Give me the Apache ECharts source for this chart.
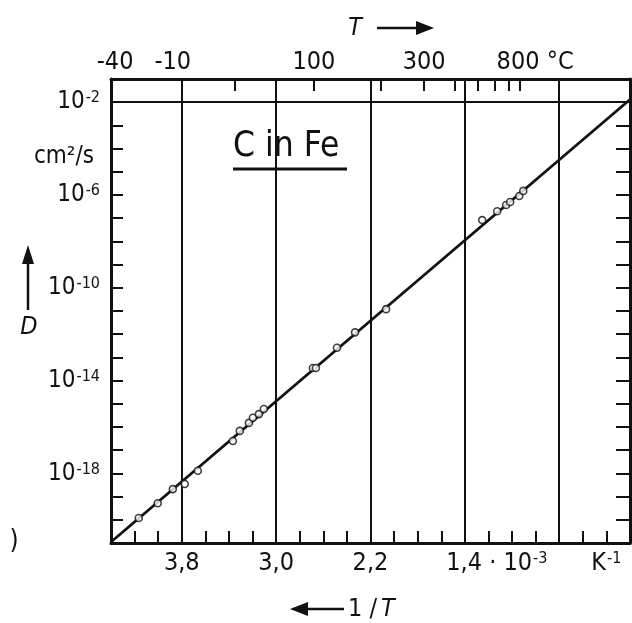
<!DOCTYPE html>
<html>
<head>
<meta charset="utf-8">
<script src="https://cdn.jsdelivr.net/npm/echarts@6/dist/echarts.min.js"></script>
<style>
html,body{margin:0;padding:0;background:#fff;}
#chart{width:632px;height:623px;}
</style>
</head>
<body>
<div id="chart"></div>
<script>
// ---- data (1/T in 10^-3 K^-1, D in cm^2/s) ----
const invT = [4.165, 4.004, 3.876, 3.775, 3.664, 3.367, 3.308, 3.231, 3.197, 3.146, 3.104, 2.688, 2.663, 2.484, 2.331, 2.068, 1.253, 1.126, 1.050, 1.016, 0.939, 0.905];
const diffD = [1.2e-20, 5.2e-20, 2.1e-19, 3.5e-19, 1.3e-18, 2.5e-17, 6.8e-17, 1.5e-16, 2.5e-16, 3.6e-16, 6.0e-16, 3.5e-14, 3.5e-14, 2.6e-13, 1.2e-12, 1.2e-11, 8.3e-8, 2.0e-7, 3.7e-7, 5.0e-7, 9.1e-7, 1.5e-6];
// fitted Arrhenius line (end points)
const lineInvT = [4.4, 0.0];
const lineD = [1.1e-21, 1.3e-2];
// axes
const majorInvT = [3.8, 3.0, 2.2, 1.4, 0.6];
const majorD = [1e-2, 1e-6, 1e-10, 1e-14, 1e-18];
const decadeD = [1e-20,1e-19,1e-18,1e-17,1e-16,1e-15,1e-14,1e-13,1e-12,1e-11,1e-10,1e-9,1e-8,1e-7,1e-6,1e-5,1e-4,1e-3,1e-2];
const xLabelValues = [3.8, 3.0, 2.2, 1.4, 0.2];
const tempTicksC = [-10, 25, 100, 200, 300, 400, 500, 600, 700, 800];
const tempLabelsC = [-40, -10, 100, 300, 800];

const FONT = "'DejaVu Sans Condensed', 'DejaVu Sans', sans-serif";
const toInv = c => 1000 / (c + 273.15);

const chart = echarts.init(document.getElementById('chart'), null, {renderer: 'canvas'});

const markData = majorD.map(v => ({yAxis: v})).concat(majorInvT.map(v => ({xAxis: v})));

const option = {
  animation: false,
  backgroundColor: '#fff',
  grid: {left: 111, top: 79, width: 519, height: 464, containLabel: false},
  xAxis: [
    {
      type: 'value', min: 0, max: 4.4, interval: 0.2, inverse: true, position: 'bottom',
      axisLine: {show: true, onZero: false, lineStyle: {color: '#111', width: 3}},
      axisTick: {show: true, inside: true, length: 12, lineStyle: {color: '#111', width: 2}},
      splitLine: {show: false},
      axisLabel: {
        customValues: xLabelValues, margin: 8, color: '#111', fontFamily: FONT, fontSize: 25,
        formatter: function (v) {
          if (Math.abs(v - 1.4) < 1e-6) return '{pad|}1,4 · 10{sup|-3}';
          if (Math.abs(v - 0.2) < 1e-6) return 'K{sup|-1}';
          return v.toFixed(1).replace('.', ',');
        },
        rich: {
          pad: {width: 64, fontSize: 25},
          sup: {fontSize: 16, fontFamily: FONT, color: '#111', verticalAlign: 'top', lineHeight: 14, padding: [0, 0, 0, 1]}
        }
      }
    },
    {
      type: 'value', min: 0, max: 4.4, inverse: true, position: 'top',
      axisLine: {show: true, onZero: false, lineStyle: {color: '#111', width: 3}},
      axisTick: {show: true, inside: true, length: 12, customValues: tempTicksC.map(toInv), lineStyle: {color: '#111', width: 2}},
      splitLine: {show: false},
      axisLabel: {
        customValues: tempLabelsC.map(toInv), margin: 4, color: '#111', fontFamily: FONT, fontSize: 25,
        formatter: function (v) {
          const c = Math.round(1000 / v - 273.15);
          if (c === 800) return '{pad|}800 °C';
          if (c < 0) return '-' + Math.abs(c) + '{padr|}';
          return String(c);
        },
        rich: {pad: {width: 30}, padr: {width: 18}}
      }
    }
  ],
  yAxis: [
    {
      type: 'log', logBase: 10, min: 1e-21, max: 1e-1, position: 'left',
      axisLine: {show: true, onZero: false, lineStyle: {color: '#111', width: 3}},
      axisTick: {show: true, inside: true, length: 12, customValues: decadeD, lineStyle: {color: '#111', width: 2}},
      splitLine: {show: false},
      axisLabel: {
        customValues: majorD, margin: 11, color: '#111', fontFamily: FONT, fontSize: 24,
        formatter: function (v) {
          const e = Math.round(Math.log10(v));
          return '10{sup|' + (e < 0 ? '-' : '') + Math.abs(e) + '}';
        },
        rich: {sup: {fontSize: 16, fontFamily: FONT, color: '#111', verticalAlign: 'top', lineHeight: 14, padding: [0, 0, 0, 1]}}
      }
    },
    {
      type: 'log', logBase: 10, min: 1e-21, max: 1e-1, position: 'right',
      axisLine: {show: true, onZero: false, lineStyle: {color: '#111', width: 3}},
      axisTick: {show: true, inside: true, length: 14, customValues: decadeD, lineStyle: {color: '#111', width: 2}},
      splitLine: {show: false},
      axisLabel: {show: false}
    }
  ],
  series: [
    {
      type: 'line', xAxisIndex: 0, yAxisIndex: 0,
      data: lineInvT.map((x, i) => [x, lineD[i]]),
      showSymbol: false, symbol: 'none', clip: true, z: 3,
      lineStyle: {color: '#111', width: 2.8},
      markLine: {
        silent: true, symbol: ['none', 'none'], label: {show: false},
        lineStyle: {color: '#111', width: 2, type: 'solid'},
        data: markData, z: 1
      }
    },
    {
      type: 'scatter', xAxisIndex: 0, yAxisIndex: 0,
      data: invT.map((x, i) => [x, diffD[i]]),
      symbol: 'circle', symbolSize: 7, z: 4,
      itemStyle: {color: '#fff', borderColor: '#111', borderWidth: 1.6}
    }
  ],
  graphic: [
    {type: 'text', left: 233, top: 129, style: {text: 'C in Fe', font: '35px ' + FONT, fill: '#111'}},
    {type: 'line', shape: {x1: 233, y1: 169, x2: 347, y2: 169}, style: {stroke: '#111', lineWidth: 3}},
    {type: 'text', x: 64, y: 157, style: {text: 'cm²/s', font: '24px ' + FONT, fill: '#111', align: 'center', verticalAlign: 'middle'}},
    {type: 'line', shape: {x1: 28, y1: 310, x2: 28, y2: 258}, style: {stroke: '#111', lineWidth: 2.5}},
    {type: 'polygon', shape: {points: [[22, 264], [34, 264], [28, 245]]}, style: {fill: '#111'}},
    {type: 'text', x: 29, y: 327, style: {text: 'D', font: 'italic 25px ' + FONT, fill: '#111', align: 'center', verticalAlign: 'middle'}},
    {type: 'text', x: 355, y: 28, style: {text: 'T', font: 'italic 25px ' + FONT, fill: '#111', align: 'center', verticalAlign: 'middle'}},
    {type: 'line', shape: {x1: 377, y1: 28, x2: 420, y2: 28}, style: {stroke: '#111', lineWidth: 2.5}},
    {type: 'polygon', shape: {points: [[416, 21], [434, 28], [416, 35]]}, style: {fill: '#111'}},
    {type: 'line', shape: {x1: 344, y1: 609, x2: 304, y2: 609}, style: {stroke: '#111', lineWidth: 2.5}},
    {type: 'polygon', shape: {points: [[308, 602], [290, 609], [308, 616]]}, style: {fill: '#111'}},
    {type: 'text', x: 348, y: 609, style: {text: '1 / ', font: '25px ' + FONT, fill: '#111', align: 'left', verticalAlign: 'middle'}},
    {type: 'text', x: 381, y: 609, style: {text: 'T', font: 'italic 25px ' + FONT, fill: '#111', align: 'left', verticalAlign: 'middle'}},
    {type: 'text', x: 14, y: 541, style: {text: ')', font: '26px ' + FONT, fill: '#111', align: 'center', verticalAlign: 'middle'}}
  ]
};
chart.setOption(option);
</script>
</body>
</html>
